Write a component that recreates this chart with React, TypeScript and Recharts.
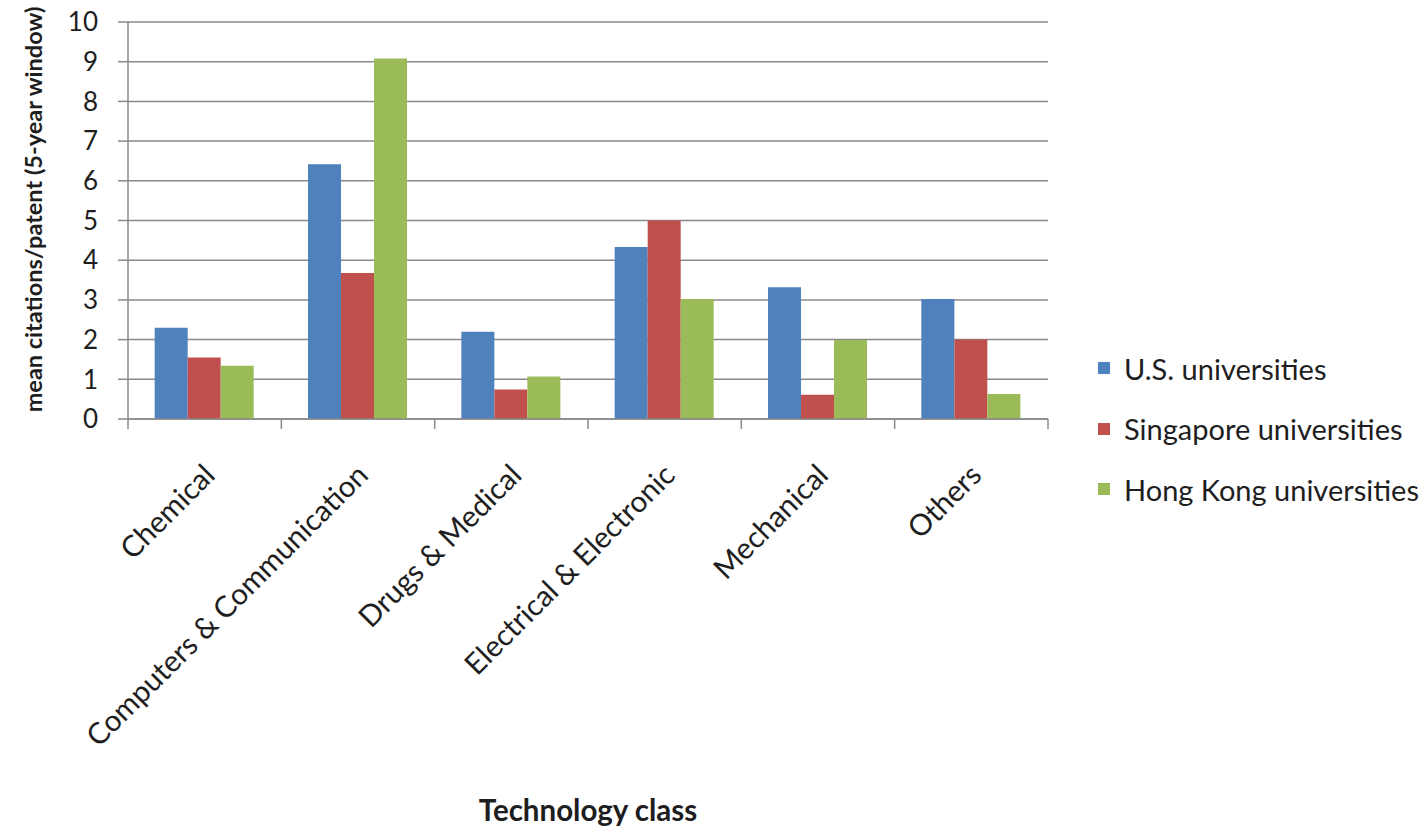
import { Bar, BarChart, CartesianGrid, Legend, XAxis, YAxis } from 'recharts'

const categories = [
  'Chemical',
  'Computers & Communication',
  'Drugs & Medical',
  'Electrical & Electronic',
  'Mechanical',
  'Others'
]
const usUniversities = [2.3, 6.42, 2.2, 4.33, 3.32, 3.02]
const singaporeUniversities = [1.55, 3.68, 0.74, 5.0, 0.61, 2.0]
const hongKongUniversities = [1.34, 9.08, 1.07, 3.02, 1.99, 0.63]
const yTicks = [0, 1, 2, 3, 4, 5, 6, 7, 8, 9, 10]

const series = [
  { key: 'us', name: 'U.S. universities', color: '#4f81bd' },
  { key: 'sg', name: 'Singapore universities', color: '#c0504d' },
  { key: 'hk', name: 'Hong Kong universities', color: '#9bbb59' }
]

const data = categories.map((name, i) => ({
  name,
  us: usUniversities[i],
  sg: singaporeUniversities[i],
  hk: hongKongUniversities[i]
}))

const FONT = 'Lato, "Open Sans", sans-serif'
const AXIS_GRAY = '#8a8a8a'
const TEXT = '#1e1e1e'

// category label rotated 45deg, plus the Excel-style tick marks at band edges
function CategoryTick(props: any) {
  const { x, y, payload, index, visibleTicksCount } = props
  const half = payload.offset || 0
  const isLast = index === visibleTicksCount - 1
  const tx = x + 12
  const ty = y + 58
  return (
    <g>
      <line x1={x - half} x2={x - half} y1={y} y2={y + 10} stroke={AXIS_GRAY} strokeWidth={1.5} />
      {isLast && (
        <line x1={x + half} x2={x + half} y1={y} y2={y + 10} stroke={AXIS_GRAY} strokeWidth={1.5} />
      )}
      <text
        x={tx}
        y={ty}
        textAnchor="end"
        transform={`rotate(-45, ${tx}, ${ty})`}
        fontFamily={FONT}
        fontSize={29.5}
        fill={TEXT}
      >
        {payload.value}
      </text>
    </g>
  )
}

function LegendBox() {
  return (
    <div style={{ fontFamily: FONT, fontSize: 29, color: TEXT, lineHeight: 1 }}>
      {series.map((s) => (
        <div key={s.key} style={{ display: 'flex', alignItems: 'center', height: 60.5 }}>
          <span style={{ width: 12, height: 12, background: s.color, marginRight: 14 }} />
          <span>{s.name}</span>
        </div>
      ))}
    </div>
  )
}

export default function App() {
  return (
    <div style={{ position: 'absolute', left: 0, top: 0, background: '#fff' }}>
      <BarChart
        width={1427}
        height={830}
        data={data}
        margin={{ top: 22, right: 379, left: 0, bottom: 0 }}
        barCategoryGap="17.4%"
        barGap={0}
      >
        <CartesianGrid vertical={false} stroke={AXIS_GRAY} strokeWidth={1.5} />
        <XAxis
          dataKey="name"
          height={411}
          interval={0}
          axisLine={{ stroke: AXIS_GRAY, strokeWidth: 1.5 }}
          tickLine={false}
          tickSize={0}
          tickMargin={0}
          tick={<CategoryTick />}
          label={{
            content: ({ viewBox }: any) => (
              <text
                x={viewBox.x + viewBox.width / 2}
                y={viewBox.y + viewBox.height - 9}
                textAnchor="middle"
                fontFamily={FONT}
                fontSize={29.5}
                fontWeight="bold"
                fill={TEXT}
              >
                Technology class
              </text>
            )
          }}
        />
        <YAxis
          width={128}
          domain={[0, 10]}
          ticks={yTicks}
          interval={0}
          axisLine={{ stroke: AXIS_GRAY, strokeWidth: 1.5 }}
          tickLine={{ stroke: AXIS_GRAY, strokeWidth: 1.5 }}
          tickSize={10}
          tickMargin={20}
          tick={{ fontFamily: FONT, fontSize: 26, fill: TEXT }}
          label={{
            content: ({ viewBox }: any) => {
              const cx = viewBox.x + 33
              const cy = viewBox.y + viewBox.height / 2 - 11
              return (
                <text
                  x={cx}
                  y={cy}
                  textAnchor="middle"
                  dominantBaseline="central"
                  transform={`rotate(-90, ${cx}, ${cy})`}
                  fontFamily={FONT}
                  fontSize={23.5}
                  fontWeight="bold"
                  fill={TEXT}
                >
                  mean citations/patent (5-year window)
                </text>
              )
            }
          }}
        />
        <Legend
          layout="vertical"
          verticalAlign="middle"
          align="center"
          content={<LegendBox />}
          wrapperStyle={{ left: 1098, top: 338, width: 329 }}
        />
        {series.map((s) => (
          <Bar key={s.key} dataKey={s.key} name={s.name} fill={s.color} isAnimationActive={false} />
        ))}
      </BarChart>
    </div>
  )
}
